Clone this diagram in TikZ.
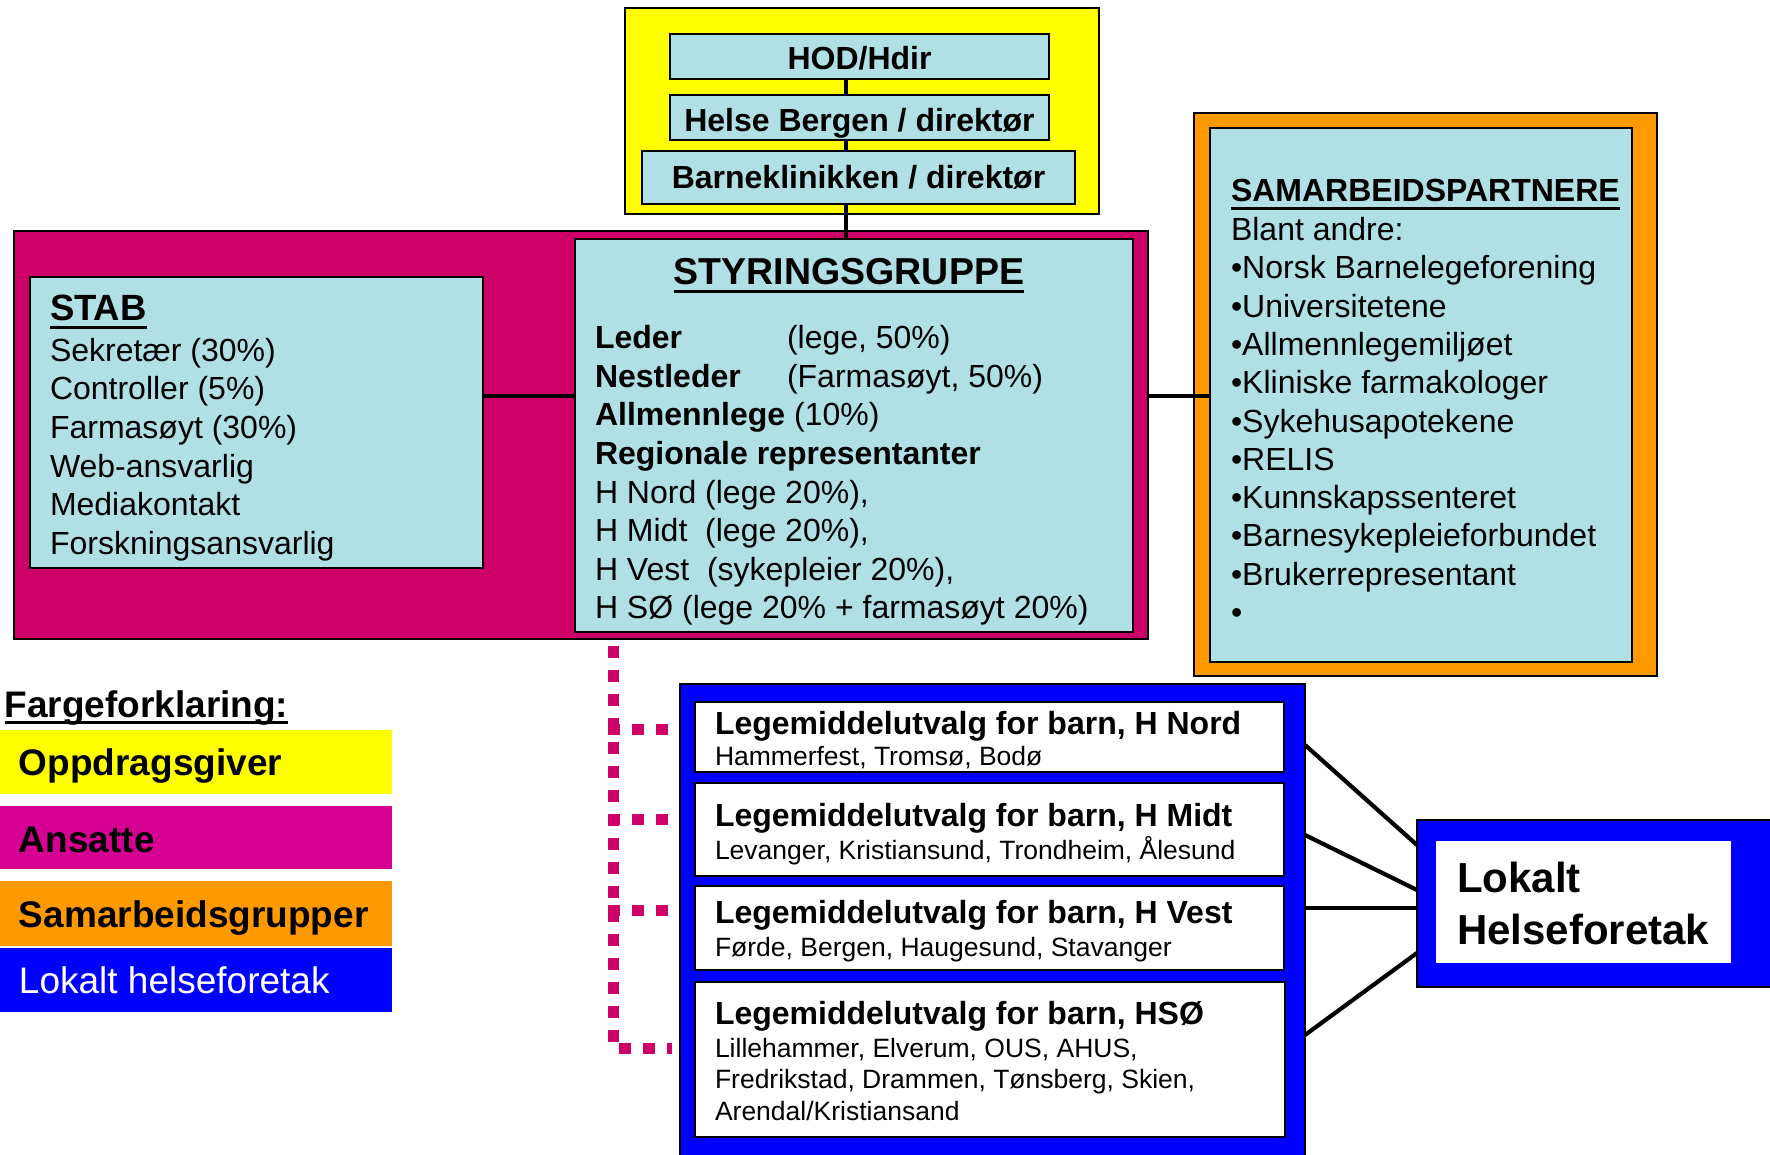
\documentclass[tikz,border=0pt]{standalone}
\usepackage{fontspec}
\setmainfont{Liberation Sans}
\usetikzlibrary{calc,fit}
\definecolor{pur}{RGB}{204,0,102}
\definecolor{lblue}{RGB}{176,224,230}
\definecolor{lmag}{RGB}{214,0,147}
\definecolor{orng}{RGB}{255,153,0}
\definecolor{blu}{RGB}{0,0,255}
\definecolor{yel}{RGB}{255,255,0}
\begin{document}
\begin{tikzpicture}[x=1pt,y=-1pt,
  box/.style={draw=black, line width=1.6pt, inner sep=0pt, outer sep=0pt},
  flat/.style={inner sep=0pt, outer sep=0pt},
  txt/.style={inner sep=0pt, outer sep=0pt, anchor=base west, text=black},
  ctxt/.style={inner sep=0pt, outer sep=0pt, anchor=base, text=black},
  fa/.style={font=\fontsize{32}{38.5}\selectfont},
  fab/.style={font=\bfseries\fontsize{32}{38.5}\selectfont},
  fsmall/.style={font=\fontsize{26.5}{31}\selectfont},
  conn/.style={draw=black, line width=3.5pt},
  conn2/.style={draw=black, line width=4.2pt},
  uline/.style={draw=black, line width=2.6pt},
  dotl/.style={draw=pur, line width=11pt, dash pattern=on 12pt off 12pt}
]
\clip (0,0) rectangle (1770,1155);
\useasboundingbox (0,0) rectangle (1770,1155);
\fill[white] (0,0) rectangle (1770,1155);

% ---------- yellow group ----------
\node[box, fill=yel, fit={(625,8) (1099,214)}] (yellowbox) {};
\node[box, fill=lblue, fit={(670,34) (1049,79)}] (hod) {};
\node[box, fill=lblue, fit={(670,95) (1049,140)}] (helse) {};
\node[box, fill=lblue, fit={(642,151) (1075,204)}] (barne) {};
\node[ctxt, fab] (hodT) at (859.5,70) {HOD/Hdir};
\node[ctxt, fab] (helseT) at (859.5,132) {Helse Bergen / direktør};
\node[ctxt, fab] (barneT) at (858.5,189) {Barneklinikken / direktør};

% ---------- purple group ----------
\node[box, fill=pur, fit={(14,231) (1148,639)}] (purple) {};
\node[box, fill=lblue, fit={(30,277) (483,568)}] (stab) {};
\node[box, fill=lblue, fit={(575,239) (1133,632)}] (styr) {};

% connectors
\coordinate (vx) at (846,0);
\draw[conn] (hod.south -| vx) -- (helse.north -| vx);
\draw[conn] (helse.south -| vx) -- (barne.north -| vx);
\draw[conn] (barne.south -| vx) -- (styr.north -| vx);
\coordinate (hy) at (0,396);

% ---------- orange group ----------
\node[box, fill=orng, fit={(1194,113) (1657,676)}] (orange) {};
\node[box, fill=lblue, fit={(1210,128) (1632,662)}] (samarb) {};
\draw[conn] (stab.east |- hy) -- (styr.west |- hy);
\draw[conn] (purple.east |- hy) -- (samarb.west |- hy);

% STAB text
\node[txt, font=\bfseries\fontsize{36.5}{40}\selectfont] (stabT) at (50,320.5) {STAB};
\draw[uline, line width=3pt] ($(stabT.base west)+(0,7)$) -- ($(stabT.base east)+(0,7)$);
\foreach \t [count=\i] in {{Sekretær (30\%)},{Controller (5\%)},{Farmasøyt (30\%)},{Web-ansvarlig},{Mediakontakt},{Forskningsansvarlig}}
  \node[txt, fa] (stab\i) at (50,{361.5+38.5*(\i-1)}) {\t};

% STYRINGSGRUPPE text
\node[ctxt, font=\bfseries\fontsize{37.5}{42}\selectfont] (styrT) at (849,284.5) {STYRINGSGRUPPE};
\draw[uline, line width=3pt] ($(styrT.base west)+(0,7)$) -- ($(styrT.base east)+(0,7)$);
\node[txt, fab] (styr1) at (595,349) {Leder};
\node[txt, fa] (styr1b) at (787,349) {(lege, 50\%)};
\node[txt, fab] (styr2) at (595,387.5) {Nestleder};
\node[txt, fa] (styr2b) at (787,387.5) {(Farmasøyt, 50\%)};
\node[txt, fa] (styr3) at (595,426) {\textbf{Allmennlege} (10\%)};
\node[txt, fab] (styr4) at (595,464.5) {Regionale representanter};
\node[txt, fa] (styr5) at (595,503) {H Nord (lege 20\%),};
\node[txt, fa] (styr6) at (595,541.5) {H Midt\ \ (lege 20\%),};
\node[txt, fa] (styr7) at (595,580) {H Vest\ \ (sykepleier 20\%),};
\node[txt, fa] (styr8) at (595,618.5) {H SØ (lege 20\% + farmasøyt 20\%)};

% SAMARBEIDSPARTNERE text
\node[txt, fab] (samT) at (1231,202) {SAMARBEIDSPARTNERE};
\draw[uline] ($(samT.base west)+(0,6.5)$) -- ($(samT.base east)+(0,6.5)$);
\foreach \t [count=\i] in {{Blant andre:},{•Norsk Barnelegeforening},{•Universitetene},{•Allmennlegemiljøet},{•Kliniske farmakologer},{•Sykehusapotekene},{•RELIS},{•Kunnskapssenteret},{•Barnesykepleieforbundet},{•Brukerrepresentant},{•}}
  \node[txt, fa] (sam\i) at (1231,{240.5+38.3*(\i-1)}) {\t};

% ---------- legend ----------
\node[txt, font=\bfseries\fontsize{37}{42}\selectfont] (legT) at (4.5,717) {Fargeforklaring:};
\draw[uline] ($(legT.base west)+(0,5.5)$) -- ($(legT.base east)+(0,5.5)$);
\node[flat, fill=yel, fit={(-5,730) (392,794)}] (legY) {};
\node[flat, fill=lmag, fit={(-5,806) (392,869)}] (legM) {};
\node[flat, fill=orng, fit={(-5,881) (392,946)}] (legO) {};
\node[flat, fill=blu, fit={(-5,948) (392,1012)}] (legB) {};
\node[txt, font=\bfseries\fontsize{37}{42}\selectfont] (legYT) at (19,775) {Oppdragsgiver};
\node[txt, font=\bfseries\fontsize{37}{42}\selectfont] (legMT) at (19,852) {Ansatte};
\node[txt, font=\bfseries\fontsize{37}{42}\selectfont] (legOT) at (19,927) {Samarbeidsgrupper};
\node[txt, text=white, font=\fontsize{37}{42}\selectfont] (legBT) at (19,993.5) {Lokalt helseforetak};

% ---------- blue group ----------
\node[box, fill=blu, fit={(680,684) (1305,1162)}] (bluebox) {};
\node[box, line width=2.2pt, fill=white, fit={(695,702) (1284,772)}] (nord) {};
\node[box, line width=2.2pt, fill=white, fit={(695,783) (1284,876)}] (midt) {};
\node[box, line width=2.2pt, fill=white, fit={(695,886) (1284,970)}] (vest) {};
\node[box, line width=2.2pt, fill=white, fit={(695,982) (1285,1137)}] (hso) {};
\node[txt, fab] (nordH) at (715,734) {Legemiddelutvalg for barn, H Nord};
\node[txt, fsmall] (nordC) at (715,765.5) {Hammerfest, Tromsø, Bodø};
\node[txt, fab] (midtH) at (715,826.5) {Legemiddelutvalg for barn, H Midt};
\node[txt, fsmall] (midtC) at (715,859.5) {Levanger, Kristiansund, Trondheim, Ålesund};
\node[txt, fab] (vestH) at (715,923.5) {Legemiddelutvalg for barn, H Vest};
\node[txt, fsmall] (vestC) at (715,956.5) {Førde, Bergen, Haugesund, Stavanger};
\node[txt, fab] (hsoH) at (715,1024) {Legemiddelutvalg for barn, HSØ};
\node[txt, fsmall] (hsoC1) at (715,1057) {Lillehammer, Elverum, OUS, AHUS,};
\node[txt, fsmall] (hsoC2) at (715,1088.5) {Fredrikstad, Drammen, Tønsberg, Skien,};
\node[txt, fsmall] (hsoC3) at (715,1120.5) {Arendal/Kristiansand};

% ---------- Lokalt Helseforetak ----------
\node[box, fill=blu, fit={(1417,820) (1800,987)}] (lokout) {};
\node[flat, fill=white, fit={(1436,841) (1731,963)}] (lokin) {};
\node[txt, font=\bfseries\fontsize{42}{52}\selectfont] (lok1) at (1457,892) {Lokalt};
\node[txt, font=\bfseries\fontsize{42}{52}\selectfont] (lok2) at (1457,944) {Helseforetak};

% right connectors
\coordinate (ra) at (0,745); \coordinate (rb) at (0,845);
\coordinate (rc) at (0,835); \coordinate (rd) at (0,890);
\coordinate (re) at (0,908);
\coordinate (rf) at (0,1035); \coordinate (rg) at (0,953);
\draw[conn2] (bluebox.east |- ra) -- (lokout.west |- rb);
\draw[conn2] (bluebox.east |- rc) -- (lokout.west |- rd);
\draw[conn2] (bluebox.east |- re) -- (lokout.west |- re);
\draw[conn2] (bluebox.east |- rf) -- (lokout.west |- rg);

% dotted magenta connectors
\coordinate (dtop) at (613,646);
\coordinate (d4) at (613,1048);
\coordinate (d4e) at (672,1048);
\draw[dotl] (dtop) -- (d4) -- (d4e);
\coordinate (d1s) at (608,729); \coordinate (d1e) at (672,729);
\coordinate (d2s) at (608,819); \coordinate (d2e) at (672,819);
\coordinate (d3s) at (608,910); \coordinate (d3e) at (672,910);
\draw[dotl] (d1s) -- (d1e);
\draw[dotl] (d2s) -- (d2e);
\draw[dotl] (d3s) -- (d3e);
\end{tikzpicture}
\end{document}
